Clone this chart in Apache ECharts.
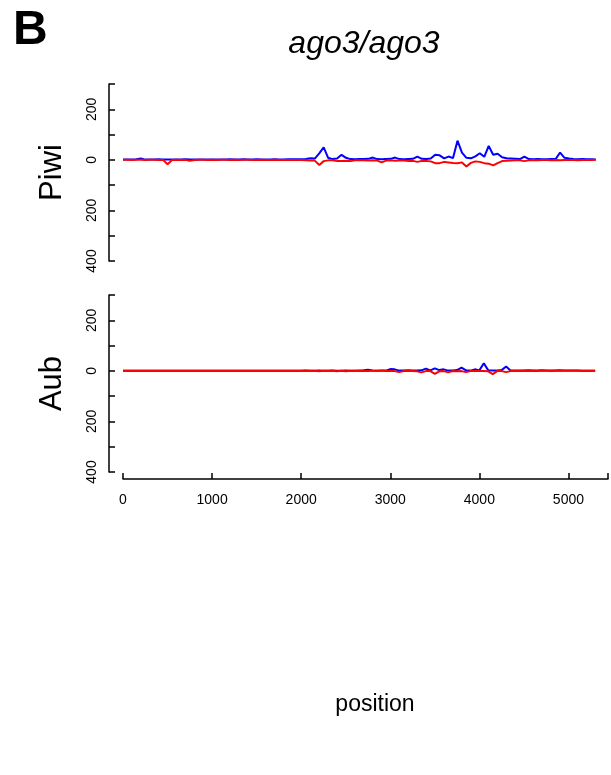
<!DOCTYPE html>
<html>
<head>
<meta charset="utf-8">
<script src="https://cdn.jsdelivr.net/npm/echarts@6/dist/echarts.min.js"></script>
<style>
html,body{margin:0;padding:0;background:#fff;}
#chart{width:611px;height:775px;}
</style>
</head>
<body>
<div id="chart"></div>
<script>
// Bin width (nt) of the coverage profiles
const BIN = 50;
// Piwi, sense (blue, plotted upward)
const piwiSense = [
  1,1,1,2,5,1,1,1,2,1,
  1,1,1,1,2,1,1,1,1,1,
  1,1,1,1,2,1,1,2,1,1,
  2,1,1,1,2,1,1,2,2,2,
  2,3,6,5,26,49,8,3,5,20,
  8,3,2,3,3,4,9,3,2,3,
  4,9,3,2,3,4,13,4,3,5,
  20,18,6,13,7,76,29,8,6,14,
  26,12,55,20,24,10,6,5,4,3,
  13,3,2,3,2,2,3,3,29,8,
  5,3,2,3,2,2,1
];
// Piwi, antisense (red, plotted downward)
const piwiAnti = [
  0,0,-1,0,0,-1,0,0,-1,-1,
  -17,-1,0,-1,0,-4,-1,0,0,-1,
  0,-1,0,0,-1,0,-1,0,0,-1,
  -1,0,-1,-1,0,-1,-1,-1,-1,-1,
  -1,-2,-3,-3,-20,-5,-2,-2,-5,-5,
  -4,-5,-2,-2,-2,-3,-2,-3,-10,-3,
  -2,-4,-3,-3,-5,-4,-8,-4,-5,-6,
  -13,-13,-8,-10,-12,-13,-10,-26,-12,-6,
  -8,-13,-15,-22,-13,-5,-4,-3,-2,-2,
  -5,-2,-1,-2,-1,-1,-2,-1,-2,-1,
  -1,-1,-2,-1,-1,-1,0
];
// Aub, sense
const aubSense = [
  0,0,0,0,0,0,0,0,0,0,
  0,0,0,0,0,0,0,0,0,0,
  0,0,0,0,0,0,0,0,0,0,
  0,0,0,0,0,0,0,0,0,0,
  0,1,0,0,1,0,0,1,0,0,
  1,0,0,1,2,4,1,0,1,1,
  7,6,1,1,2,1,1,2,9,2,
  10,3,6,1,1,3,13,2,1,6,
  2,30,2,1,1,3,17,1,1,1,
  1,2,1,1,2,1,1,1,2,1,
  1,1,1,0,0,0,0
];
// Aub, antisense
const aubAnti = [
  0,0,0,0,0,0,0,0,0,0,
  0,0,0,0,0,0,0,0,0,0,
  0,0,0,0,0,0,0,0,0,0,
  0,0,0,0,0,0,0,0,0,0,
  0,0,0,0,-2,0,0,0,-2,0,
  -2,0,0,-1,0,-1,0,0,0,-1,
  -1,-1,-5,-1,-1,-1,-2,-6,-1,-1,
  -12,-2,-1,-6,-1,-2,-1,-5,-1,-1,
  -1,-1,-2,-13,-1,-1,-5,-1,-1,-1,
  0,-1,0,-1,0,0,-1,0,0,0,
  0,0,0,0,0,0,0
];
const positions = piwiSense.map((_, i) => i * BIN);
const xTicks = [0, 1000, 2000, 3000, 4000, 5000];
const yLabelled = [200, 0, -200, -400];
const panelNames = ['Piwi', 'Aub'];
const titleText = 'ago3/ago3';
const panelLetter = 'B';
const xName = 'position';

const FONT = 'Liberation Sans, Arial, Helvetica, sans-serif';
const pairs = arr => arr.map((v, i) => [positions[i], v]);

const chart = echarts.init(document.getElementById('chart'), null, {renderer: 'canvas'});

function yAxisFor(gridIndex, name) {
  return {
    type: 'value', gridIndex, min: -400, max: 300, interval: 100,
    offset: 14,
    name, nameLocation: 'middle', nameGap: 41,
    nameTextStyle: {fontFamily: FONT, fontSize: 31, color: '#000'},
    axisLine: {show: true, onZero: false, lineStyle: {color: '#000', width: 1.5}},
    axisTick: {show: true, inside: true, length: 6, lineStyle: {color: '#000', width: 1.5}},
    axisLabel: {
      rotate: 90, margin: 10, fontFamily: FONT, fontSize: 14, color: '#000',
      formatter: v => yLabelled.includes(v) ? String(Math.abs(v)) : ''
    },
    splitLine: {show: false}
  };
}

const lineSeries = (name, data, xi, color) => ({
  type: 'line', name, xAxisIndex: xi, yAxisIndex: xi, data: pairs(data),
  showSymbol: false, symbol: 'none',
  lineStyle: {color, width: 2}, silent: true, animation: false
});

chart.setOption({
  animation: false,
  backgroundColor: '#fff',
  title: [
    {text: panelLetter, left: 8, top: 2, textStyle: {fontFamily: FONT, fontSize: 48, fontWeight: 'bold', color: '#000'}},
    {text: titleText, left: 359, top: 23, textAlign: 'center', textStyle: {fontFamily: FONT, fontSize: 32, fontStyle: 'italic', fontWeight: 'normal', color: '#000'}},
    {text: xName, left: 370, top: 688, textAlign: 'center', textStyle: {fontFamily: FONT, fontSize: 23, fontWeight: 'normal', color: '#000'}}
  ],
  grid: [
    {left: 123, top: 84, width: 485.6, height: 177},
    {left: 123, top: 295, width: 485.6, height: 177}
  ],
  xAxis: [
    {type: 'value', gridIndex: 0, min: 0, max: 5444, interval: 1000, show: false},
    {type: 'value', gridIndex: 1, min: 0, max: 5444, interval: 1000, offset: 7,
     axisLine: {show: true, onZero: false, lineStyle: {color: '#000', width: 1.5}},
     axisTick: {show: true, inside: true, length: 6, lineStyle: {color: '#000', width: 1.5}},
     axisLabel: {margin: 14, fontFamily: FONT, fontSize: 14, color: '#000',
       formatter: v => xTicks.includes(v) ? String(v) : ''},
     splitLine: {show: false}}
  ],
  yAxis: [yAxisFor(0, panelNames[0]), yAxisFor(1, panelNames[1])],
  series: [
    lineSeries('Piwi sense', piwiSense, 0, '#0000FF'),
    lineSeries('Piwi antisense', piwiAnti, 0, '#FF0000'),
    lineSeries('Aub sense', aubSense, 1, '#0000FF'),
    lineSeries('Aub antisense', aubAnti, 1, '#FF0000')
  ]
});
</script>
</body>
</html>
